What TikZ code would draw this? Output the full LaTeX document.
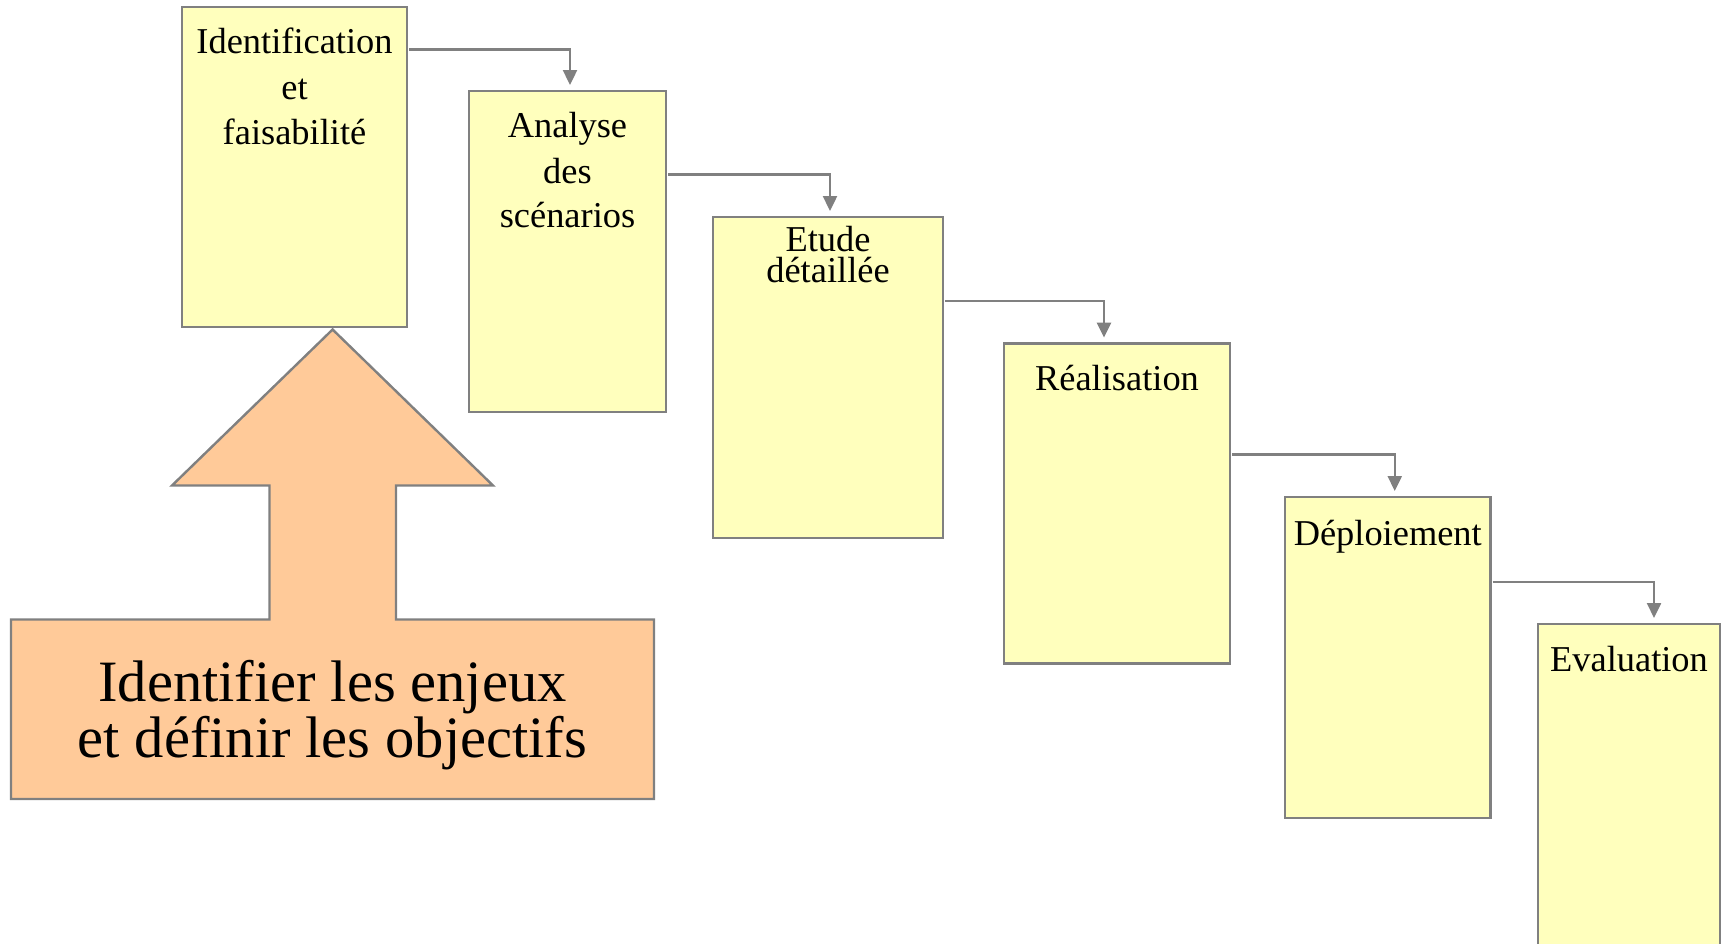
\documentclass[tikz,border=0pt]{standalone}
\usepackage{fontspec}
\setmainfont{Liberation Serif}
\usetikzlibrary{arrows.meta,calc}
\definecolor{boxfill}{RGB}{255,255,189}
\definecolor{edgegray}{RGB}{128,128,128}
\definecolor{peach}{RGB}{255,202,153}
\tikzset{
  stepbox/.style={draw=edgegray,fill=boxfill,line width=2.4pt,rectangle,inner sep=0pt,outer sep=0pt,anchor=north west},
  lbl/.style={anchor=base,inner sep=0pt,font=\fontsize{36.4}{43}\selectfont},
  biglbl/.style={anchor=base,inner sep=0pt,font=\fontsize{58.6}{58}\selectfont},
  conn/.style={draw=edgegray,line width=2.4pt,-{Triangle[length=15pt,width=14pt]},shorten >=6pt}
}
\begin{document}
\begin{tikzpicture}[x=1pt,y=-1pt]
\useasboundingbox (0,0) rectangle (1721,943);
\begin{scope}
\clip (0,0) rectangle (1721,943);
% boxes
\node[stepbox,minimum width=225pt,minimum height=320pt] (b1) at (182,7) {};
\node[stepbox,minimum width=197pt,minimum height=321pt] (b2) at (469,91) {};
\node[stepbox,minimum width=230pt,minimum height=321pt] (b3) at (713,217) {};
\node[stepbox,minimum width=226pt,minimum height=320pt] (b4) at (1004,343.6) {};
\node[stepbox,minimum width=205.5pt,minimum height=321pt] (b5) at (1285,497) {};
\node[stepbox,minimum width=182pt,minimum height=400pt] (b6) at (1538,624) {};
% labels
\node[lbl] (t1a) at (294.5,53.5) {Identification};
\node[lbl] (t1b) at (294.5,99) {et};
\node[lbl] (t1c) at (294.5,144) {faisabilité};
\node[lbl] (t2a) at (567.5,137) {Analyse};
\node[lbl] (t2b) at (567.5,183.5) {des};
\node[lbl] (t2c) at (567.5,227) {scénarios};
\node[lbl] (t3) at (828,251.5) {\vtop{\baselineskip=31pt\lineskiplimit=-100pt\halign{\hfil#\hfil\cr Etude\cr détaillée\cr}}};
\node[lbl] (t4) at (1117,390) {Réalisation};
\node[lbl] (t5) at (1387.75,545) {Déploiement};
\node[lbl] (t6) at (1629,671) {Evaluation};
% connectors
\draw[conn] ($(b1.north east)+(2,42.5)$) -| ([xshift=2.5pt]b2.north);
\draw[conn] ($(b2.north east)+(2,83.5)$) -| ([xshift=2pt]b3.north);
\draw[conn] ($(b3.north east)+(2,83.7)$) -| ([xshift=-13pt]b4.north);
\draw[conn] ($(b4.north east)+(2,110.8)$) -| ([xshift=7pt]b5.north);
\draw[conn] ($(b5.north east)+(2,85)$) -| ([xshift=25pt]b6.north);
\end{scope}
% big arrow callout
\draw[draw=edgegray,fill=peach,line width=2.4pt,line join=miter]
  (332.6,329.5) -- (493,485.5) -- (396,485.5) -- (396,619.5) -- (654,619.5)
  -- (654,799) -- (11,799) -- (11,619.5) -- (269.5,619.5) -- (269.5,485.5)
  -- (172,485.5) -- cycle;
\node[biglbl] (g1) at (332.5,701) {Identifier les enjeux};
\node[biglbl] (g2) at (332.5,757) {et définir les objectifs};
\end{tikzpicture}
\end{document}
